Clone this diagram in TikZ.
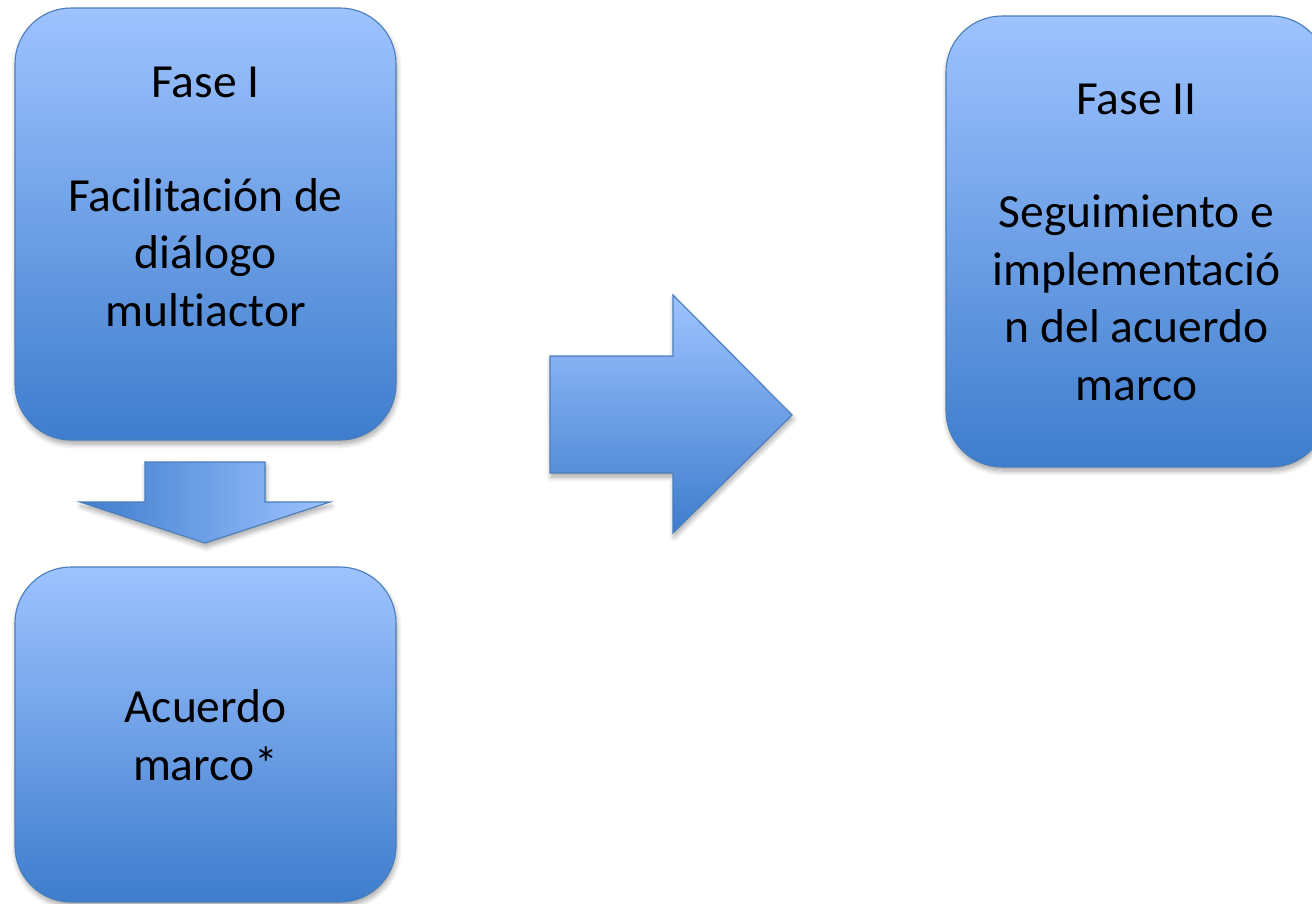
\documentclass[tikz,border=0pt]{standalone}
\usepackage{fontspec}
\setmainfont[Ligatures={NoCommon}]{Carlito}
\usetikzlibrary{shadows.blur}
\definecolor{boxtop}{RGB}{158,195,255}
\definecolor{boxbot}{RGB}{62,125,205}
\definecolor{boxline}{RGB}{74,126,187}
\tikzset{
  softshadow/.style={blur shadow={shadow xshift=1pt, shadow yshift=-4pt, shadow blur steps=6, shadow blur radius=5pt, shadow opacity=35}},
  phasebox/.style={draw=boxline, line width=1.1pt, rounded corners=56pt, minimum width=381pt, top color=boxtop, bottom color=boxbot, inner sep=0pt, softshadow},
  boxtext/.style={font=\fontsize{47.5}{57.5}\selectfont, align=center, anchor=base, inner sep=0pt, text=black},
  blockarrow/.style={draw=boxline, line width=1.1pt, softshadow}
}
\begin{document}
\begin{tikzpicture}[x=1pt, y=-1pt]
\useasboundingbox (0,0) rectangle (1312,903);
\clip (0,0) rectangle (1312,903);
% boxes
\node[phasebox, minimum height=432pt] (b1) at (205.5,224) {};
\node[phasebox, minimum height=335pt] (b2) at (205.5,734.5) {};
\node[phasebox, minimum height=451pt] (b3) at (1136.5,241.5) {};
% texts
\node[boxtext] (t1) at (205.5,326) {Fase I\\[56pt]Facilitación de\\diálogo\\multiactor};
\node[boxtext] (t2) at (205.5,780) {Acuerdo\\marco*};
\node[boxtext] (t3) at (1136.5,400) {Fase II\\[56pt]Seguimiento e\\implementació\\n del acuerdo\\marco};
% down arrow
\path[blockarrow, left color=boxbot, right color=boxtop]
  (145,462) -- (265,462) -- (265,502) -- (330,502) -- (205,543) -- (80,502) -- (145,502) -- cycle;
% right arrow
\path[blockarrow, top color=boxtop, bottom color=boxbot]
  (550,356) -- (673,356) -- (673,295) -- (792,415) -- (673,533) -- (673,473) -- (550,473) -- cycle;
\end{tikzpicture}
\end{document}
